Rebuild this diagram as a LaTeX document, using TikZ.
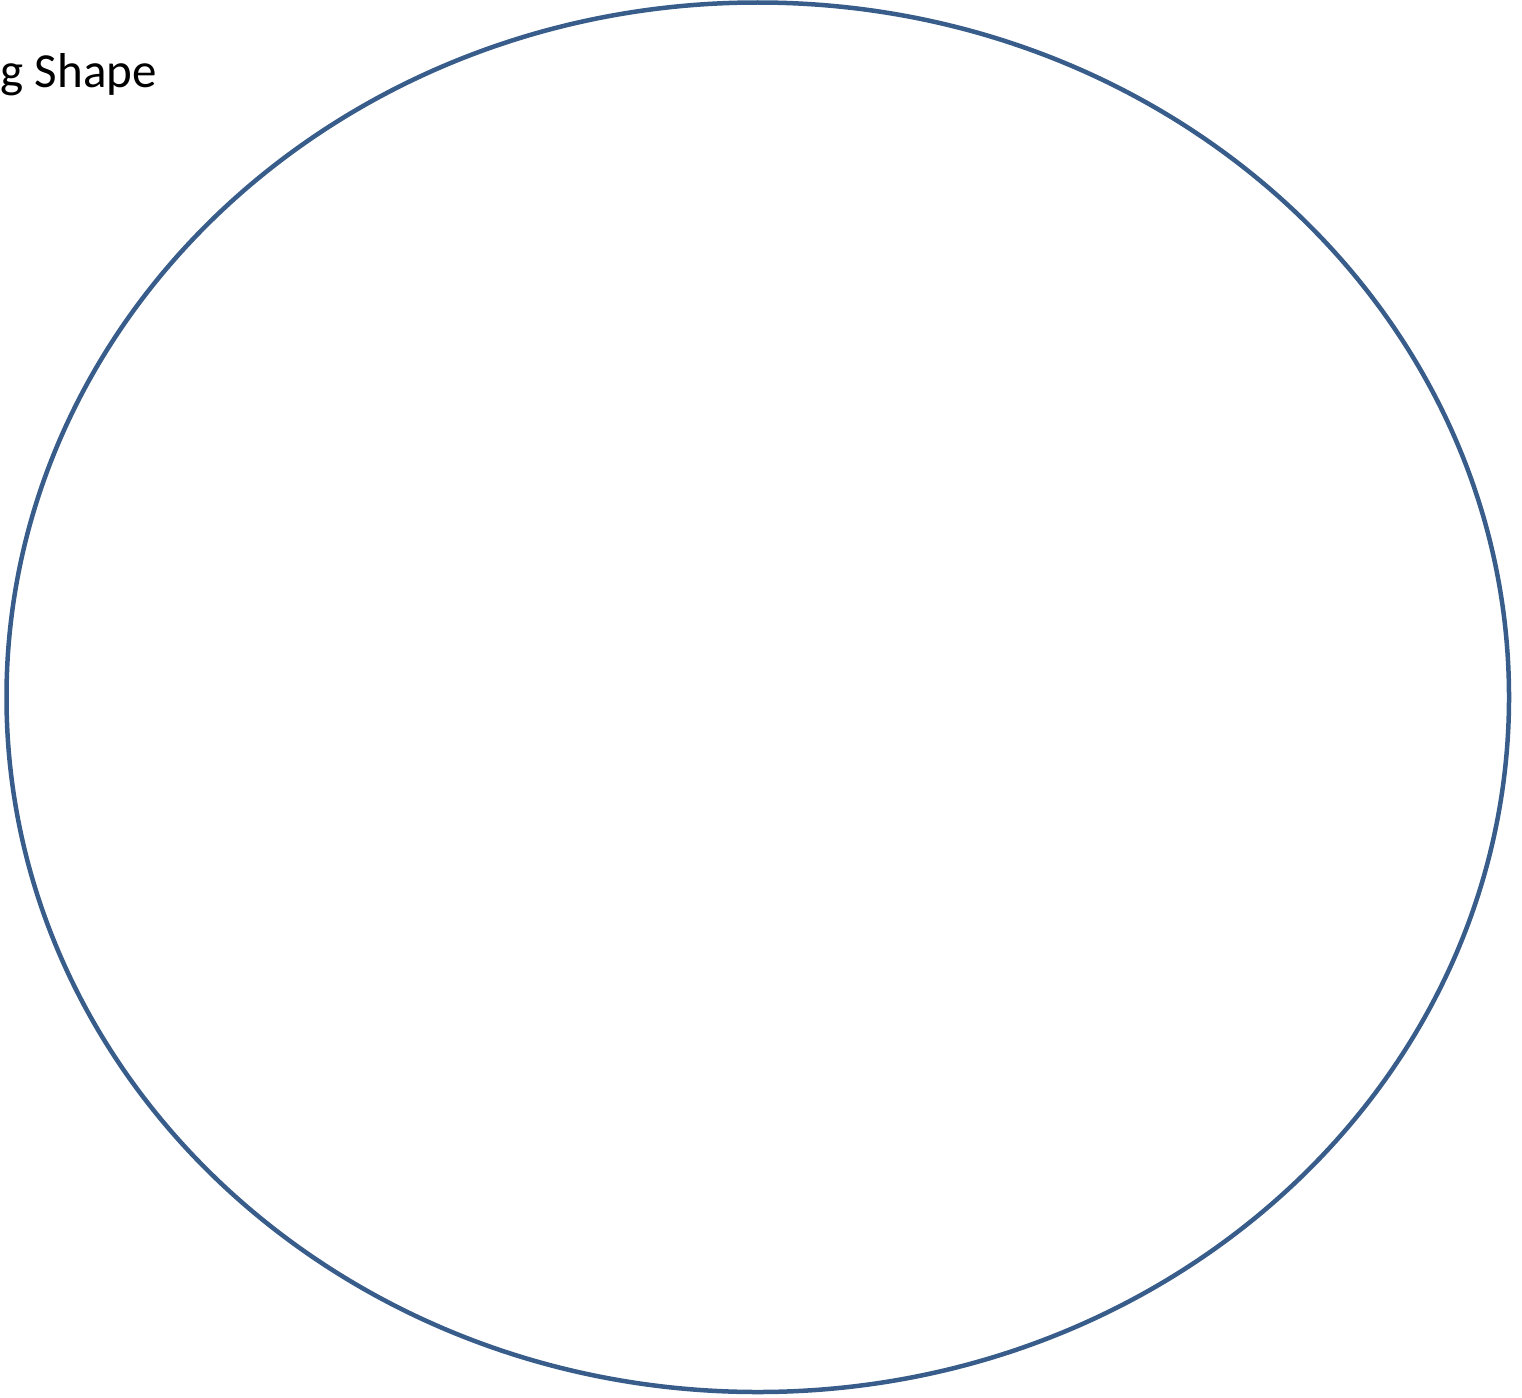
\documentclass[tikz,border=0pt]{standalone}
\usepackage{fontspec}
\setmainfont{Carlito}
\usetikzlibrary{shapes.geometric}
\definecolor{shapeblue}{HTML}{385D8A}
\tikzset{outline/.style={draw=shapeblue, line width=4.5pt}}
\begin{document}
\begin{tikzpicture}[x=1pt,y=-1pt]
\useasboundingbox (0,0) rectangle (1522,1397);
\node[outline, ellipse, minimum width=1502.5pt, minimum height=1389.5pt, inner sep=0pt, outer sep=0pt] (shape) at (757.75,697.25) {};
\node[anchor=base east, inner sep=0pt, font=\fontsize{49}{58}\selectfont] (label) at (157,87) {g Shape};
\end{tikzpicture}
\end{document}
